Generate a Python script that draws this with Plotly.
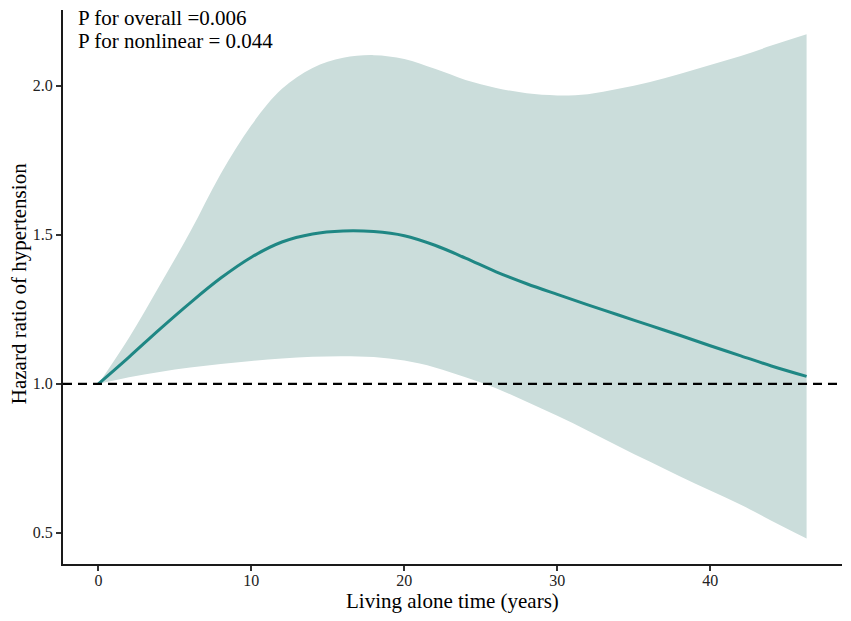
import plotly.graph_objects as go

# Living alone time (years)
years = [0, 2, 4, 6, 8, 10, 12, 14, 16, 18, 20, 22, 24, 26, 28, 30, 32, 34, 36, 38, 40, 42, 44, 46.3]
# Hazard ratio estimate
hr = [1.0, 1.09, 1.183, 1.272, 1.355, 1.425, 1.476, 1.503, 1.513, 1.511, 1.497, 1.465, 1.422, 1.376,
      1.336, 1.30, 1.265, 1.231, 1.197, 1.163, 1.128, 1.094, 1.06, 1.025]
# Upper 95% CI
upper = [1.0, 1.155, 1.33, 1.51, 1.705, 1.868, 1.99, 2.06, 2.094, 2.103, 2.09, 2.057, 2.02, 1.993,
         1.975, 1.968, 1.972, 1.99, 2.012, 2.04, 2.07, 2.10, 2.135, 2.173]
# Lower 95% CI
lower = [1.0, 1.022, 1.04, 1.055, 1.067, 1.077, 1.085, 1.091, 1.093, 1.09, 1.078, 1.055, 1.022, 0.985,
         0.94, 0.893, 0.843, 0.791, 0.74, 0.69, 0.642, 0.594, 0.541, 0.481]

x_ticks = [0, 10, 20, 30, 40]
y_ticks = [0.5, 1.0, 1.5, 2.0]
y_tick_labels = ["0.5", "1.0", "1.5", "2.0"]

x_title = "Living alone time (years)"
y_title = "Hazard ratio of hypertension"
annot_lines = ["P for overall =0.006", "P for nonlinear = 0.044"]

LINE_COLOR = "#1f8784"
FILL_COLOR = "#cbdddb"
FONT = "Liberation Serif, Times New Roman, serif"

fig = go.Figure()

fig.add_trace(go.Scatter(
    x=years, y=lower,
    mode="lines",
    line=dict(width=0, color=FILL_COLOR, shape="spline", smoothing=1.0),
    hoverinfo="skip",
    showlegend=False,
))
fig.add_trace(go.Scatter(
    x=years, y=upper,
    mode="lines",
    fill="tonexty",
    fillcolor=FILL_COLOR,
    line=dict(width=0, color=FILL_COLOR, shape="spline", smoothing=1.0),
    hoverinfo="skip",
    showlegend=False,
))

fig.add_trace(go.Scatter(
    x=years, y=hr,
    mode="lines",
    line=dict(color=LINE_COLOR, width=3, shape="spline", smoothing=1.0),
    showlegend=False,
))

fig.add_shape(type="line", xref="paper", x0=0, x1=1, yref="y", y0=1.0, y1=1.0,
              line=dict(color="black", width=2.3, dash="9px,6px"))

fig.add_annotation(x=-1.45, y=2.228, xref="x", yref="y", text=annot_lines[0],
                   showarrow=False, xanchor="left", yanchor="middle",
                   font=dict(family=FONT, size=21, color="black"))
fig.add_annotation(x=-1.45, y=2.151, xref="x", yref="y", text=annot_lines[1],
                   showarrow=False, xanchor="left", yanchor="middle",
                   font=dict(family=FONT, size=21, color="black"))

# axis titles
fig.add_annotation(x=0.5, y=-0.066, xref="paper", yref="paper", text=x_title,
                   showarrow=False, xanchor="center", yanchor="middle",
                   font=dict(family=FONT, size=21, color="black"))
fig.add_annotation(x=-0.0571, y=0.506, xref="paper", yref="paper", text=y_title,
                   showarrow=False, xanchor="center", yanchor="middle", textangle=-90,
                   font=dict(family=FONT, size=21, color="black"))

fig.update_layout(
    width=851, height=621,
    margin=dict(l=63, r=9, t=10, b=57),
    paper_bgcolor="white", plot_bgcolor="white",
    font=dict(family=FONT, color="black"),
    xaxis=dict(
        range=[-2.315, 48.615],
        tickvals=x_ticks,
        ticks="outside", ticklen=5, tickwidth=1.5, tickcolor="#333333",
        ticklabelstandoff=-4,
        showline=True, linecolor="#1a1a1a", linewidth=2,
        showgrid=False, zeroline=False, automargin=False,
        tickfont=dict(family=FONT, size=16, color="#222222"),
    ),
    yaxis=dict(
        range=[0.3955, 2.2545],
        tickvals=y_ticks, ticktext=y_tick_labels,
        ticks="outside", ticklen=5, tickwidth=1.5, tickcolor="#333333",
        showline=True, linecolor="#1a1a1a", linewidth=2,
        showgrid=False, zeroline=False, automargin=False,
        tickfont=dict(family=FONT, size=16, color="#222222"),
    ),
)

fig.write_html("out.html", config={"displayModeBar": False},
               post_script="document.body.style.margin='0';document.body.style.overflow='hidden';")
